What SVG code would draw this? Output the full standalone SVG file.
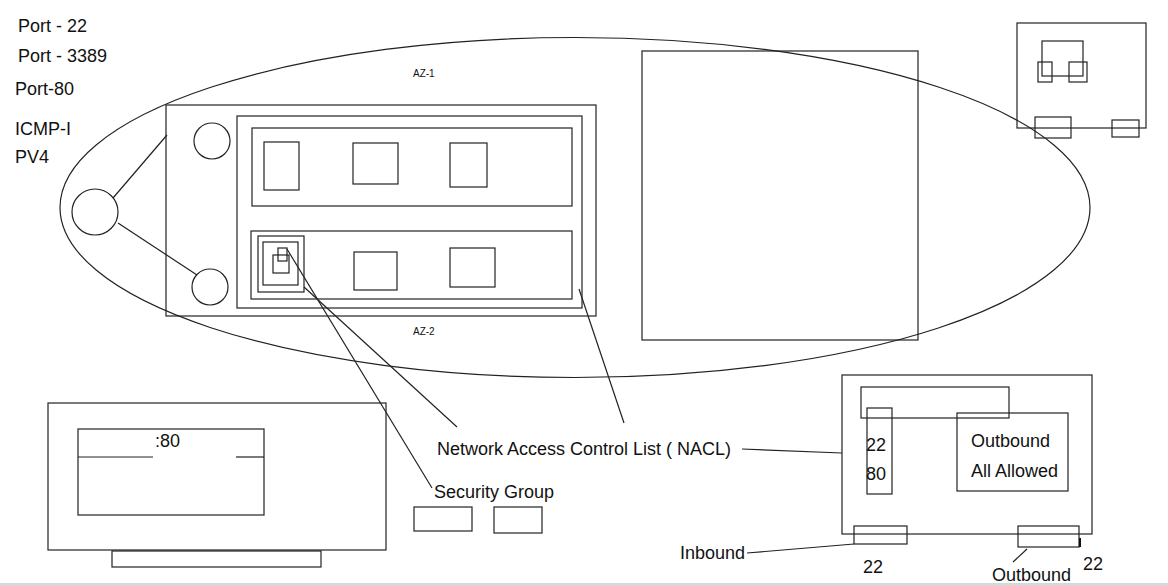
<svg xmlns="http://www.w3.org/2000/svg" width="1168" height="586" viewBox="0 0 1168 586">
<style>
.s{fill:none;stroke:#222;stroke-width:1.2}
.t{font-family:"Liberation Sans",Arial,sans-serif;font-size:18px;fill:#111}
.sm{font-family:"Liberation Sans",Arial,sans-serif;font-size:10px;fill:#111}
</style>
<rect width="1168" height="586" fill="#fff"/>
<g id="legend">
<text class="t" x="18" y="32">Port - 22</text>
<text class="t" x="18" y="62">Port - 3389</text>
<text class="t" x="15" y="95">Port-80</text>
<text class="t" x="15" y="135">ICMP-I</text>
<text class="t" x="15" y="163">PV4</text>
</g>
<g id="region">
<ellipse class="s" cx="575" cy="207.5" rx="515" ry="170"/>
<text class="sm" x="413" y="77">AZ-1</text>
<text class="sm" x="413" y="335">AZ-2</text>
</g>
<g id="vpc">
<rect class="s" x="166" y="105" width="430" height="211"/>
<circle class="s" cx="212" cy="141" r="18"/>
<circle class="s" cx="95" cy="212" r="23"/>
<circle class="s" cx="210" cy="287" r="18"/>
</g>
<g id="nacl-frame">
<rect class="s" x="237" y="116" width="345" height="192"/>
</g>
<g id="subnet-1">
<rect class="s" x="252" y="128" width="320" height="78"/>
<rect class="s" x="264" y="142" width="35" height="48"/>
<rect class="s" x="353" y="143" width="45" height="41"/>
<rect class="s" x="450" y="143" width="37" height="44"/>
</g>
<g id="subnet-2">
<rect class="s" x="251" y="231" width="321" height="68"/>
<rect class="s" x="258" y="236" width="46" height="56"/>
<rect class="s" x="263" y="242" width="35" height="43"/>
<rect class="s" x="273" y="255" width="16" height="18"/>
<rect class="s" x="278" y="248" width="9" height="13"/>
<rect class="s" x="354" y="252" width="43" height="38"/>
<rect class="s" x="450" y="248" width="45" height="39"/>
</g>
<g id="big-square">
<rect class="s" x="642" y="51" width="276" height="289"/>
</g>
<g id="top-right-box">
<rect class="s" x="1017" y="23" width="129" height="105"/>
<rect class="s" x="1042" y="41" width="41" height="35"/>
<rect class="s" x="1038" y="62" width="14" height="20"/>
<rect class="s" x="1069" y="62" width="18" height="20"/>
<rect class="s" x="1035" y="117" width="36" height="21"/>
<rect class="s" x="1112" y="120" width="27" height="17"/>
</g>
<g id="bottom-left-box">
<rect class="s" x="48" y="403" width="338" height="147"/>
<rect class="s" x="78" y="429" width="186" height="86"/>
<line class="s" x1="78" y1="457" x2="153" y2="457"/>
<line class="s" x1="236" y1="457" x2="264" y2="457"/>
<text class="t" x="155" y="447">:80</text>
<rect class="s" x="112" y="551" width="209" height="16"/>
</g>
<g id="sg-boxes">
<rect class="s" x="414" y="507" width="58" height="24"/>
<rect class="s" x="494" y="507" width="48" height="26"/>
</g>
<g id="nacl-table">
<rect class="s" x="842" y="375" width="250" height="159"/>
<rect class="s" x="861" y="387" width="148" height="31"/>
<rect class="s" x="867" y="408" width="25" height="86"/>
<text class="t" x="866" y="451">22</text>
<text class="t" x="866" y="480">80</text>
<rect class="s" x="957" y="413" width="111" height="78"/>
<text class="t" x="971" y="447">Outbound</text>
<text class="t" x="971" y="477">All Allowed</text>
<rect class="s" x="854" y="526" width="53" height="18"/>
<rect class="s" x="1018" y="526" width="61" height="21"/>
<line x1="1080" y1="538" x2="1080" y2="547" stroke="#111" stroke-width="2"/>
</g>
<g id="labels">
<text class="t" x="437" y="455">Network Access Control List ( NACL)</text>
<text class="t" x="434" y="498">Security Group</text>
<text class="t" x="680" y="559">Inbound</text>
<text class="t" x="863" y="573">22</text>
<text class="t" x="992" y="581">Outbound</text>
<text class="t" x="1083" y="570">22</text>
</g>
<g id="connectors">
<line class="s" x1="113" y1="198" x2="167" y2="135"/>
<line class="s" x1="118" y1="223" x2="197" y2="275"/>
<line class="s" x1="287" y1="249" x2="432" y2="488"/>
<line class="s" x1="304" y1="287" x2="457" y2="427"/>
<line class="s" x1="579" y1="289" x2="624" y2="423"/>
<line class="s" x1="742" y1="449" x2="842" y2="453"/>
<line class="s" x1="747" y1="553" x2="854" y2="544"/>
<line class="s" x1="1013" y1="562" x2="1027" y2="549"/>
</g>
<line x1="0" y1="584.5" x2="1168" y2="584.5" stroke="#d8d8d8" stroke-width="3"/>
</svg>
